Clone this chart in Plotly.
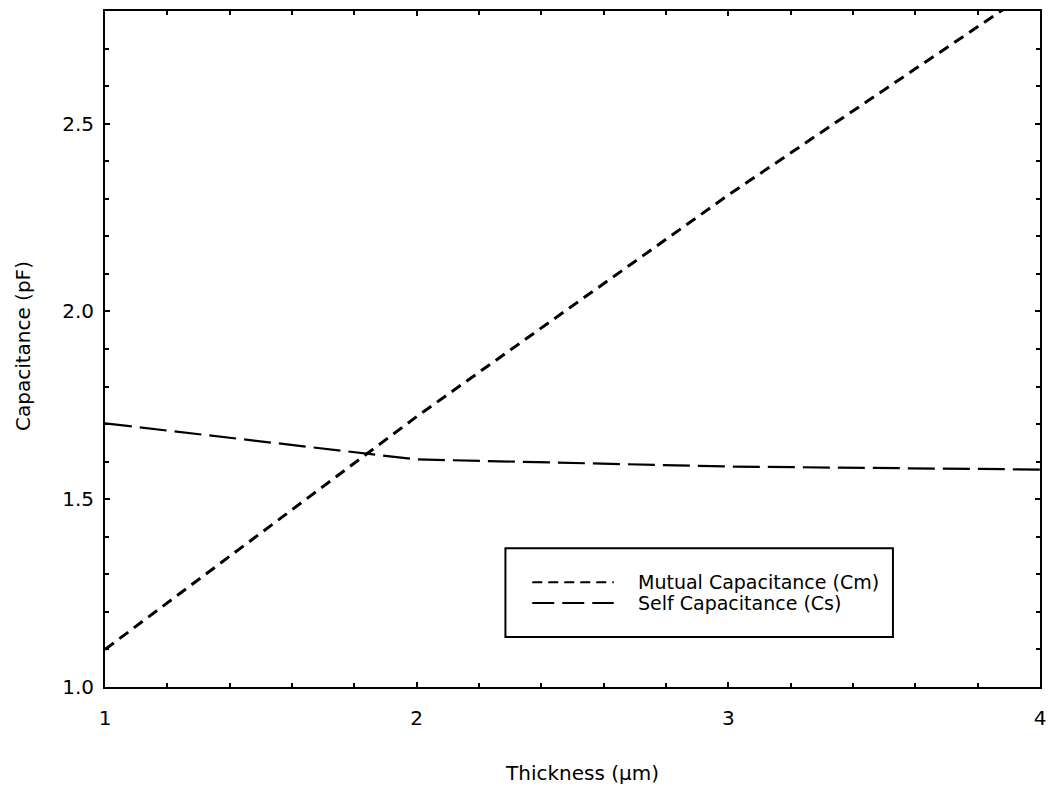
import plotly.graph_objects as go

thickness = [1, 2, 3, 4]
mutual_cap = [1.10, 1.72, 2.31, 2.87]
self_cap = [1.702, 1.606, 1.587, 1.579]
names = ["Mutual Capacitance (Cm)", "Self Capacitance (Cs)"]
x_ticks = [1, 2, 3, 4]
y_ticks = [1.0, 1.5, 2.0, 2.5]

FONT = "DejaVu Sans, Arial, sans-serif"
W, H = 1055, 789
L, R, T, B = 105, 9, 10, 102
pw, ph = W - L - R, H - T - B


def px(x):
    return (x - L) / pw


def py(y):
    return (H - B - y) / ph


fig = go.Figure()
fig.add_trace(go.Scatter(x=thickness, y=mutual_cap, mode="lines", name=names[0],
                         line=dict(color="black", width=3, dash="11px,7px"), showlegend=False))
fig.add_trace(go.Scatter(x=thickness, y=self_cap, mode="lines", name=names[1],
                         line=dict(color="black", width=2.2, dash="27px,8px"), showlegend=False))

axis_common = dict(showgrid=False, zeroline=False, showline=True, linecolor="black", linewidth=2,
                   mirror="allticks", ticks="inside", ticklen=5, tickcolor="black", tickwidth=1.5,
                   tickfont=dict(family=FONT, size=20, color="black"))

fig.update_xaxes(range=[1, 4], tickvals=x_ticks, ticktext=[str(v) for v in x_ticks],
                 minor=dict(dtick=0.2, ticks="inside", ticklen=4, tickcolor="black"),
                 ticklabelstandoff=12, **axis_common)
fig.update_yaxes(range=[1.0, 2.8], tickvals=y_ticks, ticktext=[f"{v:.1f}" for v in y_ticks],
                 minor=dict(dtick=0.1, ticks="inside", ticklen=4, tickcolor="black"),
                 ticklabelstandoff=5, **axis_common)

# manual legend
shapes = [
    dict(type="rect", xref="paper", yref="paper", x0=px(508), x1=px(898), y0=py(637), y1=py(548),
         line=dict(color="black", width=2), fillcolor="white", layer="above"),
    dict(type="line", xref="paper", yref="paper", x0=px(535), x1=px(617), y0=py(582), y1=py(582),
         line=dict(color="black", width=2, dash="10px,6px")),
    dict(type="line", xref="paper", yref="paper", x0=px(535), x1=px(617), y0=py(603), y1=py(603),
         line=dict(color="black", width=2, dash="22px,8px")),
]
annotations = [
    dict(xref="paper", yref="paper", x=px(639), y=py(582), text=names[0], showarrow=False,
         xanchor="left", yanchor="middle", font=dict(family=FONT, size=19, color="black")),
    dict(xref="paper", yref="paper", x=px(639), y=py(603), text=names[1], showarrow=False,
         xanchor="left", yanchor="middle", font=dict(family=FONT, size=19, color="black")),
    dict(xref="paper", yref="paper", x=px(585), y=py(773), text="Thickness (μm)", showarrow=False,
         xanchor="center", yanchor="middle", font=dict(family=FONT, size=20, color="black")),
    dict(xref="paper", yref="paper", x=px(22), y=py(346), text="Capacitance (pF)", showarrow=False,
         textangle=-90, xanchor="center", yanchor="middle", font=dict(family=FONT, size=20, color="black")),
]

fig.update_layout(width=W, height=H, margin=dict(l=L, r=R, t=T, b=B),
                  paper_bgcolor="white", plot_bgcolor="white",
                  shapes=shapes, annotations=annotations, showlegend=False)

fig.write_html("out.html", config={"displayModeBar": False},
               post_script="document.body.style.margin='0';")
